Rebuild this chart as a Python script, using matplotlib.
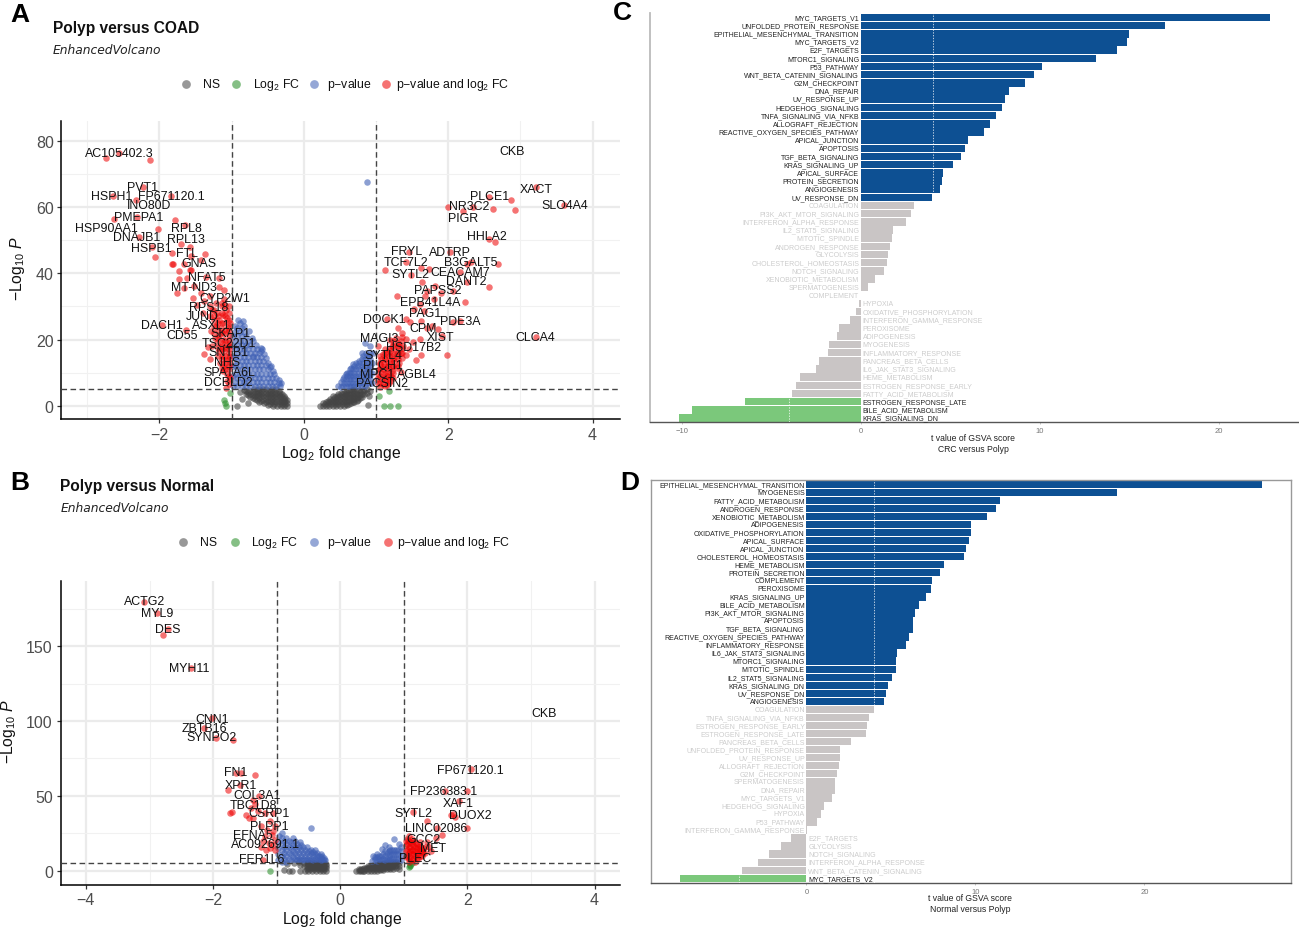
import matplotlib
matplotlib.use('Agg')
import matplotlib.pyplot as plt

plt.rcParams['font.family'] = ['Liberation Sans', 'DejaVu Sans']
plt.rcParams['mathtext.fontset'] = 'custom'
plt.rcParams['mathtext.rm'] = 'Liberation Sans'
plt.rcParams['mathtext.it'] = 'Liberation Sans:italic'
plt.rcParams['mathtext.bf'] = 'Liberation Sans:bold'
plt.rcParams['mathtext.default'] = 'regular'

W, H = 1299, 928

# ---------- Panel A points (log2FC, -log10 P) ----------
a_gray = [(-0.24,0),(-0.24,0.8),(-0.24,1.6),(-0.27,0),(-0.27,1),(-0.28,2),(-0.28,3),(-0.32,0),(-0.32,1),(-0.32,2),
          (-0.33,3),(-0.33,4),(-0.37,0),(-0.38,1),(-0.38,2),(-0.38,3),(-0.38,4),(-0.39,5),(-0.43,0),(-0.44,1),
          (-0.44,2),(-0.44,3),(-0.44,4),(-0.44,5),(-0.49,0.3),(-0.5,1.4),(-0.5,2.5),(-0.5,3.5),(-0.5,4.6),(-0.55,0.7),
          (-0.56,1.8),(-0.56,3),(-0.56,4),(-0.56,5),(-0.62,1.2),(-0.62,2.2),(-0.62,3.2),(-0.62,4.2),(-0.62,5),(-0.68,2),
          (-0.68,3),(-0.68,4),(-0.69,5),(-0.74,2.6),(-0.74,3.6),(-0.74,4.6),(-0.8,3.5),(-0.8,4.6),(-0.86,2),(-0.89,4.2),
          (-0.93,0),(-0.78,0.9),(-0.83,4.9),
          (0.23,0),(0.27,0),(0.27,0.8),(0.31,0),(0.31,1),(0.35,0),(0.35,1),(0.36,2),(0.4,0),(0.4,1),(0.4,2),(0.41,2.8),
          (0.45,0),(0.45,1),(0.45,2),(0.46,3),(0.5,0),(0.5,1),(0.5,2),(0.5,3),(0.51,4),(0.55,0),(0.55,1),(0.55,2),
          (0.55,3),(0.56,4),(0.6,0.3),(0.6,1.3),(0.6,2.3),(0.6,3.3),(0.6,4.5),(0.65,0.7),(0.65,1.7),(0.65,2.7),(0.65,3.7),
          (0.66,4.7),(0.7,1),(0.7,2),(0.7,3),(0.7,4),(0.7,5),(0.75,1.7),(0.75,2.7),(0.75,3.7),(0.76,4.8),(0.81,2.7),
          (0.8,3.7),(0.82,4.8),(0.87,4),(0.87,5.1),(0.89,0.2),(0.9,2.8),(0.92,4.6)]
a_gray_cols = [(-0.26,[0.4,1.4,2.4]),(-0.3,[0.5,1.5,2.5,3.5]),(-0.35,[0.5,1.5,2.5,3.5,4.5]),(-0.41,[0.5,1.5,2.5,3.5,4.5]),
               (-0.47,[0.5,1.5,2.5,3.5,4.5]),(-0.53,[1,2,3,4,5]),(-0.59,[1.5,2.5,3.5,4.5]),(-0.65,[1.8,2.8,3.8,4.8]),(-0.71,[2.3,3.3,4.3]),
               (-0.77,[3.2,4.2]),
               (0.29,[0.4]),(0.33,[0.5,1.3]),(0.38,[0.5,1.5]),(0.43,[0.5,1.5,2.5]),(0.48,[0.5,1.5,2.5,3.4]),(0.53,[0.5,1.5,2.5,3.5]),
               (0.58,[0.5,1.5,2.5,3.5,4.3]),(0.63,[0.5,1.5,2.5,3.5,4.5]),(0.68,[1,2,3,4,4.8]),(0.73,[1.4,2.4,3.4,4.4]),(0.78,[2.2,3.2,4.2]),(0.84,[3.4,4.5])]
a_green = [(-1.02,4),(-1.1,1.6),(-1.09,0.7),(-1.08,0),(1.04,3),(1.18,4.4),(1.11,0),(1.19,0),(1.31,0)]
a_blue = [(-0.98,6),(-0.98,9),(-0.98,12),(-0.98,15),(-0.98,18),(-0.98,21),(-0.93,6),(-0.93,8.5),(-0.93,11),(-0.93,13.5),
          (-0.93,16),(-0.93,18.5),(-0.93,21),(-0.93,23.5),(-0.91,26),(-0.86,6),(-0.86,8.5),(-0.86,11),(-0.86,13.5),(-0.86,16),
          (-0.86,18.5),(-0.86,21),(-0.86,23.5),(-0.84,25.5),(-0.8,6),(-0.8,8.5),(-0.8,11),(-0.8,13.5),(-0.8,16),(-0.8,18.5),
          (-0.8,21),(-0.76,22.5),(-0.74,6),(-0.74,8.5),(-0.74,11),(-0.74,13.5),(-0.74,16),(-0.74,18.5),(-0.72,20.5),(-0.68,6),
          (-0.68,8.5),(-0.68,11),(-0.68,13.5),(-0.68,16),(-0.66,18.5),(-0.62,6),(-0.62,8.5),(-0.62,11),(-0.62,13.5),(-0.62,16),
          (-0.6,17.5),(-0.56,6),(-0.56,8.5),(-0.56,11),(-0.56,13.5),(-0.55,15.5),(-0.5,6),(-0.5,8.5),(-0.5,11),(-0.5,13),
          (-0.44,6),(-0.44,8.5),(-0.43,10.5),(-0.38,6),(-0.38,8.3),(-0.33,6),(-0.31,7),(-0.46,12),(-0.7,15),(-0.58,17),
          (0.87,67.5),(0.48,6),(0.54,6),(0.54,8),(0.58,6),(0.58,8),(0.58,9.5),(0.62,6),(0.62,8),(0.62,10),(0.66,6),(0.66,8),
          (0.66,10),(0.66,11.5),(0.7,6),(0.7,8),(0.7,10),(0.7,12),(0.75,6),(0.75,8),(0.75,10),(0.75,12),(0.76,13.5),(0.8,6),
          (0.8,8),(0.8,10),(0.8,12),(0.8,14),(0.81,16),(0.85,6),(0.85,8),(0.85,10),(0.85,12),(0.85,14),(0.86,16),(0.85,19),
          (0.9,7),(0.9,9),(0.9,11),(0.9,13),(0.9,15),(0.92,18),(0.95,7),(0.95,10),(0.95,13),(0.96,16)]
a_blue_cols = [(-0.95,[7.2,9.7,12.2,14.7,17.2,19.7,22.2,24]),(-0.89,[7.2,9.7,12.2,14.7,17.2,19.7,22.2,25]),(-0.83,[7.2,9.7,12.2,14.7,17.2,19.7,22.2,24]),
               (-0.77,[7.2,9.7,12.2,14.7,17.2,19.7]),(-0.71,[7.2,9.7,12.2,14.7,17.2,19.7]),(-0.65,[7.2,9.7,12.2,14.7,17.2]),(-0.59,[7.2,9.7,12.2,14.7,16.5]),
               (-0.53,[7.2,9.7,12.2,14.5]),(-0.47,[7.2,9.7,11.8]),(-0.41,[7.2,9.5]),(-0.35,[7,7.9]),
               (0.52,[5.8,7.2]),(0.56,[7,8.8]),(0.6,[7,9,10]),(0.64,[7,9,11]),(0.68,[7,9,11,12.5]),(0.72,[7,9,11,13]),(0.77,[7,9,11,13]),
               (0.82,[7,9,11,13,15]),(0.87,[7,9,11,13,15]),(0.92,[8,10,12,14,16])]
a_red = [(-2.74,74.9),(-2.56,76.3),(-2.13,74.3),(-2.23,66),(-2.65,63.4),(-1.84,63.4),(-2.32,62),(-2.63,56.4),(-2.31,56.9),(-1.78,56.2),
         (-1.64,54.6),(-2.02,53.5),(-2.29,51),(-1.7,48.8),(-1.58,47.9),(-2.11,47.8),(-1.82,46.2),(-1.37,45.7),(-2.06,44.8),(-1.43,44.1),
         (-1.56,45.3),(-1.82,42.7),(-1.81,42.7),(-1.66,42.8),(-1.58,41),(-1.57,41),(-1.73,40.8),(-1.73,38.3),(-1.62,38.5),(-1.36,38.8),
         (-1.17,38.5),(-1.52,36.3),(-1.66,35.5),(-1.17,35.8),(-1.1,35),(-1.76,34),(-1.43,34),(-1.3,33.2),(-1.53,32.4),(-1.11,32.2),
         (-1.38,31.5),(-1.22,31),(-1.48,30.5),(-1.3,30),(-1.14,30),(-1.27,29),(-1.08,29),(-1.4,28),(-1.2,28),(-1.12,27.5),
         (-1.3,27),(-1.25,26),(-1.06,26.5),(-1.17,26),(-1.1,25),(-1.02,25),(-1.97,24.4),(-1.22,24),(-1.15,23.5),(-1.05,23.5),
         (-1.63,22.8),(-1.28,22.5),(-1.1,22),(-1.18,21.5),(-1.03,21.5),(-1.23,20.5),(-1.12,20),(-1.04,20),(-1.2,19),(-1.07,18.5),
         (-1.27,18),(-1.13,18),(-1.33,17.6),(-1.03,17),(-1.18,16.5),(-1.1,16.5),(-1.39,15.5),(-1.04,15),(-1.14,15),(-1.3,14.1),
         (-1.08,13.8),(-1.02,13),(-1.16,13),(-1.1,12),(-1.04,11),(-1.12,10.5),(-1.06,9.5),(-1.02,8.5),(-1.07,7.5),(-1.03,6.5),(-1.08,5.5),
         (1.13,41.1),(1.45,46.5),(1.42,43.5),(1.62,41.5),(1.73,41.3),(1.49,39.5),(2.03,46.3),(2.32,43.3),(2.69,42.9),(2.26,42.8),
         (2.16,40.5),(2.26,37.5),(2.57,35.8),(1.64,37.5),(1.82,36.2),(2.07,34.7),(1.7,34.7),(1.68,33.2),(1.9,34),(1.29,33.1),
         (1.8,32.2),(1.61,30.7),(2.23,31.2),(1.66,28.7),(1.52,29.2),(1.47,25.2),(1.15,26.2),(2.16,25.7),(2.07,25.2),(1.62,25.7),
         (1.42,26.2),(1.3,23.6),(1.36,21.9),(1.86,23.3),(1.7,23.5),(1.77,24),(1.91,21.1),(1.61,20.2),(1.42,20.2),(1.51,19.2),
         (1.03,17.9),(1.98,15.4),(1.63,15.3),(1.56,13.9),(1.45,17.2),(1.42,15.2),(2.0,60),(2.56,50.5),(2.65,49.5),
         (2.35,60),(2.57,63),(2.87,62),(2.62,59.5),(2.92,59.2),(2.2,58.8),(3.22,66),(3.61,60.6),(3.21,20.7),
         (1.2,20),(1.28,20.5),(1.35,19.5),(1.22,18),(1.3,18),(1.38,18),(1.13,17),(1.2,16.5),(1.27,16.5),(1.34,16),
         (1.09,15.5),(1.15,15.5),(1.22,15),(1.29,15),(1.36,14.5),(1.07,14),(1.13,14),(1.19,13.5),(1.25,13.5),(1.32,13),
         (1.05,12.5),(1.11,12.5),(1.17,12),(1.23,12),(1.29,11.5),(1.04,11),(1.1,11),(1.16,10.5),(1.22,10.5),(1.03,9.5),
         (1.09,9.5),(1.15,9),(1.21,9),(1.02,8),(1.08,8),(1.14,7.8),(1.2,7.5),(1.03,6.8),(1.09,6.5),(1.15,6.2),(1.05,5.6),(1.35,10.3)]
a_red_cols = [(-1.04,[9,12,14,16,18,19,22.5,24,26,28,30]),(-1.09,[11,13,15,17.5,20,23,27,30.5]),(-1.14,[11.5,14,17,19,22,25,28,31]),
              (-1.19,[15,17.5,20.5,23,25,27]),(-1.24,[22,24,27,29]),
              (1.06,[7,9,11,13,15]),(1.12,[6,8,10,12,14,16]),(1.18,[7,9,11,13,15,17]),(1.24,[8.5,10,12,14,16,18,19.5]),(1.3,[12,14,16,18,19]),(1.36,[16,17.5,20.8])]

a_labels = ['AC105402.3','CKB','PVT1','XACT','HSPH1','FP671120.1','PLCE1','INO80D','NR3C2','SLO4A4','PMEPA1','PIGR','HSP90AA1','RPL8',
            'HHLA2','DNAJB1','RPL13','HSPB1','FRYL','ADTRP','FTL','TCF7L2','B3GALT5','GNAS','CEACAM7','SYTL2','NFAT5','DANT2','MT-ND3',
            'PAPSS2','CYP2W1','EPB41L4A','RPS18','PAG1','JUND','DOCK1','PDE3A','DACH1','ASXL1','CPM','SKAP1','CD55','MAGI3','XIST','CLCA4',
            'TSC22D1','HSD17B2','SNTB1','SYTL4','NHS','PLCH1','SPATA6L','MPC1','AGBL4','DCBLD2','PACSIN2']
a_label_x = [-2.56,2.88,-2.24,3.22,-2.66,-1.84,2.57,-2.14,2.29,3.61,-2.29,2.2,-2.73,-1.63,
             2.54,-2.31,-1.64,-2.11,1.42,2.02,-1.62,1.42,2.31,-1.46,2.16,1.47,-1.35,2.25,-1.52,
             1.86,-1.09,1.75,-1.32,1.68,-1.41,1.12,2.16,-1.97,-1.28,1.65,-1.02,-1.68,1.05,1.9,3.21,
             -1.04,1.52,-1.04,1.1,-1.06,1.1,-1.03,1.01,1.57,-1.04,1.08]
a_label_y = [76.2,76.9,66,65.5,63.4,63.4,63.2,60.6,60.2,60.6,56.9,56.8,53.6,53.6,
             51.2,50.9,50.5,47.6,46.8,46.3,46,43.3,43.3,43.1,40.5,39.7,38.8,37.7,36,
             35,32.4,31.3,29.9,28.1,27,26.2,25.5,24.5,24.5,23.6,21.9,21.4,20.4,20.8,20.7,
             19.1,17.8,16.1,15.3,13.1,12.3,10.1,9.6,9.6,7.2,6.8]

# ---------- Panel B points ----------
b_gray = [(-0.22,0),(-0.22,1.5),(-0.22,3),(-0.22,4.5),(-0.27,0),(-0.27,1.5),(-0.27,3),(-0.27,4.5),(-0.27,6),(-0.32,0),(-0.32,1.5),(-0.32,3),
          (-0.32,4.5),(-0.32,6),(-0.38,0),(-0.38,1.5),(-0.38,3),(-0.38,4.5),(-0.38,6),(-0.44,0),(-0.44,1.5),(-0.44,3),(-0.44,4.5),(-0.44,6),
          (-0.5,0),(-0.5,2),(-0.5,4),(-0.5,5.5),(-0.56,0),(-0.57,3),(-0.57,5),(-0.63,0),(-0.63,4),(-0.65,6),(-0.72,5),(-0.76,0),(-0.84,4.4),
          (-0.88,0.2),(-0.8,0),
          (0.25,0),(0.29,0),(0.29,1.2),(0.33,0),(0.33,1.3),(0.38,0),(0.38,1.5),(0.43,0),(0.43,1.5),(0.43,2.8),(0.48,0),(0.48,1.5),(0.48,3),
          (0.53,0),(0.53,1.5),(0.53,3),(0.58,0),(0.58,1.5),(0.58,3),(0.58,4.5),(0.63,0.2),(0.63,2),(0.63,3.5),(0.63,5),(0.68,0.3),(0.68,2),
          (0.68,3.5),(0.68,5),(0.73,0.7),(0.73,2.3),(0.73,4),(0.73,5.5),(0.78,1),(0.78,2.5),(0.78,4),(0.78,5.5),(0.83,1.3),(0.83,3),(0.83,4.5),
          (0.83,6),(0.88,2),(0.88,4),(0.88,6),(0.93,1),(0.93,3),(0.93,5)]
b_gray_cols = [(-0.25,[0.8,2.3,3.8,5.3]),(-0.3,[0.8,2.3,3.8,5.3]),(-0.35,[0.8,2.3,3.8,5.3]),(-0.41,[0.8,2.3,3.8,5.3]),(-0.47,[0.8,2.3,3.8,5.3]),(-0.53,[1,3,4.8]),
               (0.31,[0.6]),(0.36,[0.7,0]),(0.41,[0.7,2]),(0.46,[0.7,2.2]),(0.51,[0.7,2.2,3.5]),(0.56,[0.7,2.2,3.7]),(0.61,[1,2.7,4.3]),(0.66,[1.2,2.8,4.3]),
               (0.71,[1.5,3.2,4.8]),(0.76,[1.7,3.2,4.8]),(0.81,[2.2,3.7,5.3]),(0.86,[2.9,4.8])]
b_green = [(-1.1,0),(1.08,2.2),(1.1,3.8),(1.13,5),(1.09,3)]
b_blue = [(-0.98,7),(-0.98,11),(-0.98,15),(-0.98,19),(-0.96,23),(-0.92,6),(-0.92,10),(-0.92,14),(-0.92,18),(-0.92,22),(-0.92,25),(-0.85,6),
          (-0.85,10),(-0.85,14),(-0.85,18),(-0.85,22),(-0.78,7),(-0.78,11),(-0.78,15),(-0.78,19),(-0.74,22),(-0.71,8),(-0.71,12),(-0.71,16),
          (-0.71,20),(-0.65,8),(-0.65,12),(-0.65,16),(-0.63,19),(-0.58,8),(-0.58,12),(-0.58,16),(-0.52,8),(-0.52,12),(-0.52,15.5),(-0.46,28.5),
          (-0.46,8),(-0.46,11.5),(-0.46,14),(-0.4,8),(-0.4,11),(-0.4,13.5),(-0.34,7.5),(-0.34,10),(-0.28,7.5),(-0.28,9.5),(-0.24,7),
          (0.5,6.5),(0.52,10),(0.58,6.5),(0.58,9),(0.58,11),(0.64,7),(0.64,10),(0.66,14.5),(0.7,7),(0.7,10),(0.7,13),(0.71,17),(0.76,7),
          (0.76,10),(0.76,13),(0.76,16),(0.82,8),(0.82,11),(0.82,14),(0.84,21),(0.88,8),(0.88,11),(0.88,14),(0.92,18),(0.95,7),(0.95,10),(0.95,13),(0.96,16)]
b_blue_cols = [(-0.88,[8,12,16,20]),(-0.81,[8,12,16,20]),(-0.75,[9,13,17]),(-0.68,[7,10,14,18]),(-0.61,[7,10,14,17]),(-0.55,[7,10,14]),(-0.49,[7,10,13]),
               (-0.43,[7,10,12.5]),(-0.37,[7,9.5,12]),(-0.31,[7,9,10.8]),(-0.26,[7,8.5]),
               (0.55,[7.5,9]),(0.61,[7.5,9.5]),(0.67,[8,11]),(0.73,[8,11.5]),(0.79,[8,11,14]),(0.85,[8,11,14]),(0.91,[8,11,14])]
b_red = [(-3.08,180),(-2.88,172.6),(-2.71,162),(-2.79,157.6),(-2.35,135.7),(-2.01,101.8),(-2.15,95.5),(-1.96,88.8),(-1.69,87.6),(-1.64,65.4),
         (-1.56,65),(-1.34,64),(-1.76,54.2),(-1.57,57),(-1.28,50.1),(-1.34,44.8),(-1.71,39.4),(-1.74,38.2),(-1.48,37.2),(-1.43,35.2),
         (-1.37,35),(-1.18,38.5),(-1.06,38.5),(-1.25,29.6),(-1.06,26.3),(-1.18,22.8),(-1.03,20.6),(-1.12,18.5),(-1.25,16),(-1.16,13.9),(-1.22,7.3),
         (-1.4,42),(-1.3,40),(-1.38,47),(-1.1,33),(-1.02,30),(-1.15,27),(-1.08,24),(-1.22,20),(-1.05,17),(-1.1,15),(-1.02,14),
         (2.06,68),(1.64,53.5),(1.99,53),(1.87,46.2),(1.77,37.9),(1.74,37),(1.81,36),(1.14,39),(1.36,33),(1.52,28.3),(2,28.3),(1.6,23.8),
         (1.5,21.5),(1.36,19),(1.26,19),(1.26,14.5),(1.18,15.5),(1.13,21),(1.08,23),
         (1.03,9),(1.03,13),(1.03,17),(1.03,20),(1.08,8),(1.08,12),(1.08,16),(1.08,19.5),(1.13,7),(1.13,11),(1.13,14),(1.13,18),(1.18,6),(1.18,10),
         (1.18,13),(1.18,19),(1.23,8),(1.23,12),(1.23,16),(1.28,10),(1.28,13),(1.33,12),(1.33,15.5),(1.42,13),(1.4,16),(1.08,5.5)]
b_red_cols = [(1.05,[10,14,18,21]),(1.1,[9,13,16,19]),(1.15,[8,11,14,17,20]),(1.2,[8.5,12,15,18]),(1.25,[10,13,16.5]),(1.3,[11.5,15])]

b_labels = ['ACTG2','MYL9','DES','MYH11','CKB','CNN1','ZBTB16','SYNPO2','FP671120.1','FN1','XPR1','FP236383.1','COL3A1','XAF1','TBC1D8',
            'CSRP1','SYTL2','DUOX2','PLPP1','LINC02086','EFNA5','GCC2','AC092691.1','MET','FER1L6','PLEC']
b_label_x = [-3.08,-2.88,-2.71,-2.37,3.2,-2.01,-2.13,-2.02,2.05,-1.65,-1.56,1.63,-1.3,1.85,-1.36,
             -1.12,1.15,2.04,-1.12,1.51,-1.38,1.31,-1.17,1.46,-1.23,1.17]
b_label_y = [180.2,172.4,161.9,135.7,105.6,101.5,95.3,89.3,67.6,66,57.1,53.1,50.4,45.2,44.1,
             38.3,38.7,37.2,30,28.3,23.6,21.1,17.8,15.3,7.5,8.2]

# ---------- Panel C ----------
c_names = ['MYC_TARGETS_V1','UNFOLDED_PROTEIN_RESPONSE','EPITHELIAL_MESENCHYMAL_TRANSITION','MYC_TARGETS_V2','E2F_TARGETS','MTORC1_SIGNALING',
           'P53_PATHWAY','WNT_BETA_CATENIN_SIGNALING','G2M_CHECKPOINT','DNA_REPAIR','UV_RESPONSE_UP','HEDGEHOG_SIGNALING','TNFA_SIGNALING_VIA_NFKB',
           'ALLOGRAFT_REJECTION','REACTIVE_OXYGEN_SPECIES_PATHWAY','APICAL_JUNCTION','APOPTOSIS','TGF_BETA_SIGNALING','KRAS_SIGNALING_UP','APICAL_SURFACE',
           'PROTEIN_SECRETION','ANGIOGENESIS','UV_RESPONSE_DN','COAGULATION','PI3K_AKT_MTOR_SIGNALING','INTERFERON_ALPHA_RESPONSE','IL2_STAT5_SIGNALING',
           'MITOTIC_SPINDLE','ANDROGEN_RESPONSE','GLYCOLYSIS','CHOLESTEROL_HOMEOSTASIS','NOTCH_SIGNALING','XENOBIOTIC_METABOLISM','SPERMATOGENESIS','COMPLEMENT',
           'HYPOXIA','OXIDATIVE_PHOSPHORYLATION','INTERFERON_GAMMA_RESPONSE','PEROXISOME','ADIPOGENESIS','MYOGENESIS','INFLAMMATORY_RESPONSE','PANCREAS_BETA_CELLS',
           'IL6_JAK_STAT3_SIGNALING','HEME_METABOLISM','ESTROGEN_RESPONSE_EARLY','FATTY_ACID_METABOLISM','ESTROGEN_RESPONSE_LATE','BILE_ACID_METABOLISM','KRAS_SIGNALING_DN']
c_values = [22.84,17.0,15.0,14.86,14.3,13.15,10.14,9.67,9.18,8.26,8.07,7.86,7.54,7.23,6.9,5.99,5.8,5.59,5.16,4.6,4.5,4.44,3.99,
            2.98,2.82,2.51,1.78,1.76,1.64,1.5,1.48,1.29,0.8,0.4,0.03,-0.12,-0.28,-0.6,-1.24,-1.36,-1.78,-1.85,-2.35,-2.53,-3.4,-3.61,-3.87,
            -6.48,-9.44,-10.16]

# ---------- Panel D ----------
d_names = ['EPITHELIAL_MESENCHYMAL_TRANSITION','MYOGENESIS','FATTY_ACID_METABOLISM','ANDROGEN_RESPONSE','XENOBIOTIC_METABOLISM','ADIPOGENESIS',
           'OXIDATIVE_PHOSPHORYLATION','APICAL_SURFACE','APICAL_JUNCTION','CHOLESTEROL_HOMEOSTASIS','HEME_METABOLISM','PROTEIN_SECRETION','COMPLEMENT',
           'PEROXISOME','KRAS_SIGNALING_UP','BILE_ACID_METABOLISM','PI3K_AKT_MTOR_SIGNALING','APOPTOSIS','TGF_BETA_SIGNALING','REACTIVE_OXYGEN_SPECIES_PATHWAY',
           'INFLAMMATORY_RESPONSE','IL6_JAK_STAT3_SIGNALING','MTORC1_SIGNALING','MITOTIC_SPINDLE','IL2_STAT5_SIGNALING','KRAS_SIGNALING_DN','UV_RESPONSE_DN',
           'ANGIOGENESIS','COAGULATION','TNFA_SIGNALING_VIA_NFKB','ESTROGEN_RESPONSE_EARLY','ESTROGEN_RESPONSE_LATE','PANCREAS_BETA_CELLS','UNFOLDED_PROTEIN_RESPONSE',
           'UV_RESPONSE_UP','ALLOGRAFT_REJECTION','G2M_CHECKPOINT','SPERMATOGENESIS','DNA_REPAIR','MYC_TARGETS_V1','HEDGEHOG_SIGNALING','HYPOXIA','P53_PATHWAY',
           'INTERFERON_GAMMA_RESPONSE','E2F_TARGETS','GLYCOLYSIS','NOTCH_SIGNALING','INTERFERON_ALPHA_RESPONSE','WNT_BETA_CATENIN_SIGNALING','MYC_TARGETS_V2']
d_values = [26.97,18.38,11.47,11.19,10.67,9.75,9.75,9.63,9.45,9.3,8.16,7.91,7.44,7.39,7.09,6.64,6.44,6.29,6.29,6.09,5.9,5.37,5.3,5.27,5.05,4.85,4.68,4.58,
            3.98,3.71,3.56,3.53,2.66,1.99,1.99,1.92,1.79,1.67,1.67,1.49,1.04,0.87,0.62,0.05,-0.9,-1.52,-2.21,-2.84,-3.81,-7.46]

# ---------- styling ----------
C_GRAY, C_GREEN, C_BLUE, C_RED = '#444444', '#228B22', '#3f60b5', '#EE0000'
BAR_UP, BAR_DN, BAR_NS = '#0d5093', '#7bc87b', '#c9c5c5'
LABEL_DARK, LABEL_LIGHT = '#222222', '#cccccc'
CUT = 4

fig = plt.figure(figsize=(W / 100, H / 100), dpi=100)

def axes_px(left, top, right, bottom):
    return fig.add_axes([left / W, 1 - bottom / H, (right - left) / W, (bottom - top) / H])

def merged(points, cols):
    out = list(points)
    for x, ys in cols:
        out += [(x, y) for y in ys]
    return out

def volcano(ax, gray, green, blue, red, labels, lx, ly, xlim, ylim, xticks, xminor, yticks, yminor, xlabel_pos, ylabel_pos):
    ax.set_xticks(xticks); ax.set_yticks(yticks)
    ax.set_xticks(xminor, minor=True)
    ax.set_yticks(yminor, minor=True)
    ax.set_xlim(*xlim); ax.set_ylim(*ylim)
    ax.grid(True, which='major', color='#ebebeb', lw=1.6, zorder=0)
    ax.grid(True, which='minor', color='#f1f1f1', lw=0.8, zorder=0)
    ax.set_axisbelow(True)
    for s in ('top', 'right'):
        ax.spines[s].set_visible(False)
    for s in ('left', 'bottom'):
        ax.spines[s].set_linewidth(1.1)
    ax.tick_params(axis='both', which='major', labelsize=11.5, labelcolor='#4d4d4d', length=3, width=0.9, color='#333333', pad=2.5)
    ax.tick_params(axis='both', which='minor', length=0)
    for pts, col, al in ((gray, C_GRAY, 0.6), (green, C_GREEN, 0.55), (blue, C_BLUE, 0.6), (red, C_RED, 0.55)):
        xs, ys = zip(*pts)
        ax.scatter(xs, ys, s=22, c=col, alpha=al, linewidths=0, zorder=2, clip_on=False)
    ax.axvline(-1, color='#444444', lw=1, ls=(0, (4, 2.5)), zorder=3)
    ax.axvline(1, color='#444444', lw=1, ls=(0, (4, 2.5)), zorder=3)
    ax.axhline(5, color='#444444', lw=1, ls=(0, (4, 2.5)), zorder=3)
    for t, x, y in zip(labels, lx, ly):
        ax.text(x, y, t, fontsize=8.9, ha='center', va='center', color='#111111', zorder=4)
    ov.text(xlabel_pos[0], xlabel_pos[1], r'Log$_2$ fold change', fontsize=11.3, ha='center', va='center', color='#111111')
    ov.text(ylabel_pos[0], ylabel_pos[1], r'$-$Log$_{10}$ $\mathit{P}$', fontsize=11.3, ha='center', va='center', rotation=90, color='#111111')

def legend_row(y, items):
    for mx, col, tx, txt in items:
        ov.plot([mx], [y], 'o', ms=6.3, color=col, alpha=0.55, mew=0, clip_on=False)
        ov.text(tx, y, txt, fontsize=8.8, ha='left', va='center', color='#111111')

def bars(ax, names, values, n_up, n_dn, xlim, ylim, xlabel, xlabel_xy, ticks, frame):
    colors = [BAR_UP] * n_up + [BAR_NS] * (len(values) - n_up - n_dn) + [BAR_DN] * n_dn
    txtcol = [LABEL_DARK] * n_up + [LABEL_LIGHT] * (len(values) - n_up - n_dn) + [LABEL_DARK] * n_dn
    pos = list(range(len(values)))
    ax.barh(pos, values, height=0.92, color=colors, linewidth=0, zorder=2)
    ax.set_xlim(*xlim); ax.set_ylim(*ylim)
    ax.set_yticks([])
    ax.set_xticks(ticks)
    ax.tick_params(axis='x', labelsize=5.5, labelcolor='#777777', length=1.5, width=0.4, color='#999999', pad=2)
    ax.axvline(CUT, color='white', lw=0.5, ls=(0, (2, 2)), zorder=3)
    ax.axvline(-CUT, color='white', lw=0.5, ls=(0, (2, 2)), zorder=3)
    off = 0.1
    for p, v, t, c in zip(pos, values, names, txtcol):
        if v >= 0:
            ax.text(-off, p, t, fontsize=5.0, ha='right', va='center', color=c, zorder=4)
        else:
            ax.text(off, p, t, fontsize=5.0, ha='left', va='center', color=c, zorder=4)
    for s in ax.spines.values():
        s.set_visible(False)
    ax.spines['bottom'].set_visible(True)
    ax.spines['bottom'].set_color('#555555'); ax.spines['bottom'].set_linewidth(1)
    for s, col, lw in frame:
        ax.spines[s].set_visible(True)
        ax.spines[s].set_color(col); ax.spines[s].set_linewidth(lw)
    ov.text(xlabel_xy[0], xlabel_xy[1], xlabel, fontsize=6.2, ha='center', va='center', linespacing=1.35, color='#222222')

# overlay in pixel coordinates for figure-level text
ov = fig.add_axes([0, 0, 1, 1], zorder=10)
ov.set_xlim(0, W); ov.set_ylim(H, 0); ov.axis('off')
ov.patch.set_alpha(0)

# Panel A
axA = axes_px(61.3, 122, 620, 420)
volcano(axA, merged(a_gray, a_gray_cols), a_green, merged(a_blue, a_blue_cols), merged(a_red, a_red_cols),
        a_labels, a_label_x, a_label_y, (-3.36, 4.38), (-4.0, 86),
        [-2, 0, 2, 4], [-3, -1, 1, 3], [0, 20, 40, 60, 80], [10, 30, 50, 70], (341.5, 454), (18, 268))

# Panel B
axB = axes_px(60.5, 581.7, 620, 885.7)
volcano(axB, merged(b_gray, b_gray_cols), b_green, merged(b_blue, b_blue_cols), merged(b_red, b_red_cols),
        b_labels, b_label_x, b_label_y, (-4.4, 4.4), (-9.5, 194),
        [-4, -2, 0, 2, 4], [-3, -1, 1, 3], [0, 50, 100, 150], [25, 75, 125, 175], (342, 920), (9, 731))

# Panel C / D
axC = axes_px(649.7, 14, 1299, 423.3)
bars(axC, c_names, c_values, 23, 3, (-11.8, 24.47), (49.53, -0.55), 't value of GSVA score\nCRC versus Polyp', (973, 444),
     [-10, 0, 10, 20], [('left', '#bbbbbb', 1.3)])
axD = axes_px(651.3, 480.7, 1291, 884.3)
bars(axD, d_names, d_values, 28, 1, (-9.18, 28.67), (49.62, -0.57), 't value of GSVA score\nNormal versus Polyp', (970, 904),
     [0, 10, 20], [('left', '#999999', 1), ('top', '#999999', 1), ('right', '#999999', 1)])

# Titles
ov.text(53, 29, 'Polyp versus COAD', fontsize=11.2, fontweight='bold', ha='left', va='center', color='#111111')
ov.text(53, 51, 'EnhancedVolcano', fontsize=8.8, style='italic', family='DejaVu Sans', ha='left', va='center', color='#222222')
ov.text(60.5, 487, 'Polyp versus Normal', fontsize=11.2, fontweight='bold', ha='left', va='center', color='#111111')
ov.text(60.5, 509, 'EnhancedVolcano', fontsize=8.8, style='italic', family='DejaVu Sans', ha='left', va='center', color='#222222')

legend_row(85, [(186, C_GRAY, 203, 'NS'), (236, C_GREEN, 253, r'Log$_2$ FC'), (314, C_BLUE, 327, 'p$-$value'), (386, C_RED, 396, r'p$-$value and log$_2$ FC')])
legend_row(543, [(183, C_GRAY, 200, 'NS'), (235, C_GREEN, 251, r'Log$_2$ FC'), (314, C_BLUE, 327, 'p$-$value'), (388, C_RED, 397, r'p$-$value and log$_2$ FC')])

# Panel letters
for letter, x, y in (('A', 20, 15), ('B', 20, 483), ('C', 622, 13), ('D', 630, 483)):
    ov.text(x, y, letter, fontsize=19, fontweight='bold', ha='center', va='center', color='black')

fig.savefig('out.png', dpi=100)
